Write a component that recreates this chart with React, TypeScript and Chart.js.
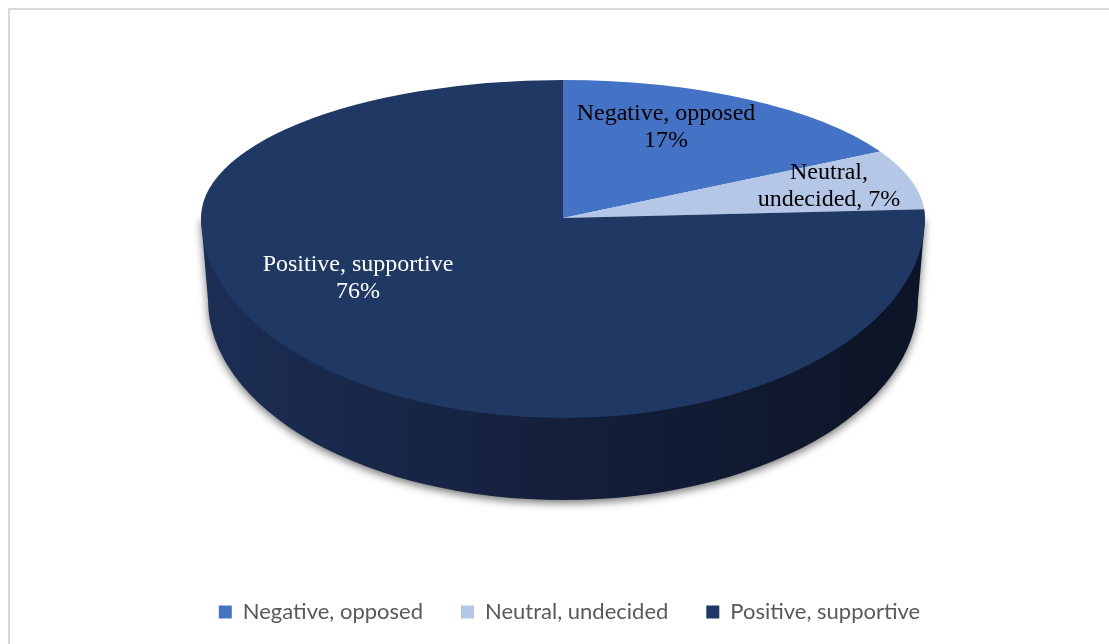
import React, { useEffect, useRef } from "react";
import { Chart, registerables } from "chart.js";

Chart.register(...registerables);

// ---- data ----
const categories = ["Negative, opposed", "Neutral, undecided", "Positive, supportive"];
const shares = [17, 7, 76];
const labelLines = [
  ["Negative, opposed", "17%"],
  ["Neutral,", "undecided, 7%"],
  ["Positive, supportive", "76%"],
];

// ---- styles ----
const sliceColors = ["#4472C4", "#B4C7E7", "#1F3864"];
const labelTextColors = ["#000000", "#000000", "#FFFFFF"];

// ---- 3D geometry (canvas px) ----
const CX = 555; // projected centre of the pie top
const VY = 210;
const RX = 362; // horizontal radius
const RY_TOP = 138; // far half vertical radius (perspective)
const RY_BOT = 200; // near half vertical radius
const DEPTH = 82;
const RXB = 355;
const RYB = 200;

// label anchors relative to the projected centre
const labelAnchors = [
  { dx: 103, dy: -98 },
  { dx: 266, dy: -39 },
  { dx: -205, dy: 53 },
];
const LINE_H = 27;

const pie3d = {
  id: "pie3d",
  beforeDatasetsDraw(chart: any) {
    const ctx: CanvasRenderingContext2D = chart.ctx;
    const meta = chart.getDatasetMeta(0);
    const arcs = meta.data;
    if (!arcs.length) return;
    const p = arcs[0].getProps(["x", "y", "outerRadius"], true);
    const R = p.outerRadius;

    // side wall
    ctx.save();
    ctx.beginPath();
    ctx.moveTo(CX - RX, VY);
    ctx.lineTo(CX - RXB, VY + DEPTH);
    ctx.ellipse(CX, VY + DEPTH, RXB, RYB, 0, Math.PI, 0, true);
    ctx.lineTo(CX + RX, VY);
    ctx.closePath();
    const g = ctx.createLinearGradient(CX - RX, 0, CX + RX, 0);
    g.addColorStop(0, "#1c2e55");
    g.addColorStop(0.5, "#141f3a");
    g.addColorStop(1, "#0c1426");
    ctx.fillStyle = g;
    ctx.shadowColor = "rgba(0,0,0,0.55)";
    ctx.shadowBlur = 9;
    ctx.shadowOffsetY = 3;
    ctx.fill();
    ctx.restore();

    // top face, far and near halves
    const halves: [number, number, number][] = [
      [0, VY, RY_TOP],
      [VY, chart.height - VY, RY_BOT],
    ];
    for (const [top, h, ry] of halves) {
      ctx.save();
      ctx.beginPath();
      ctx.rect(0, top, chart.width, h);
      ctx.clip();
      ctx.translate(CX, VY);
      ctx.scale(RX / R, ry / R);
      ctx.translate(-p.x, -p.y);
      arcs.forEach((a: any) => a.draw(ctx));
      ctx.restore();
    }
    return false;
  },
  afterDraw(chart: any) {
    const ctx: CanvasRenderingContext2D = chart.ctx;
    ctx.save();
    ctx.font = '24px "Liberation Serif", "Times New Roman", serif';
    ctx.textAlign = "center";
    ctx.textBaseline = "alphabetic";
    labelLines.forEach((lines, i) => {
      const a = labelAnchors[i];
      ctx.fillStyle = labelTextColors[i];
      lines.forEach((t, j) => {
        ctx.fillText(t, CX + a.dx, VY + a.dy + j * LINE_H);
      });
    });
    ctx.restore();
  },
};

export default function App() {
  const ref = useRef<HTMLCanvasElement | null>(null);
  useEffect(() => {
    document.documentElement.style.overflow = "hidden";
    document.body.style.overflow = "hidden";
    if (!ref.current) return;
    const chart = new Chart(ref.current, {
      type: "pie",
      data: {
        labels: categories,
        datasets: [
          {
            data: shares,
            backgroundColor: sliceColors,
            borderWidth: 0,
          },
        ],
      },
      options: {
        responsive: false,
        animation: false,
        layout: { padding: { left: 22, right: 0, top: 0, bottom: 11 } },
        plugins: {
          tooltip: { enabled: false },
          legend: {
            position: "bottom",
            labels: {
              boxWidth: 13,
              boxHeight: 13,
              padding: 38,
              color: "#595959",
              font: { family: "Lato, 'Open Sans', sans-serif", size: 22 },
            },
          },
        },
      },
      plugins: [pie3d],
    });
    return () => chart.destroy();
  }, []);

  return (
    <div
      style={{
        position: "fixed",
        left: 8,
        top: 8,
        width: 1101,
        height: 636,
        overflow: "hidden",
        background: "#fff",
      }}
    >
      <canvas ref={ref} width={1101} height={636} style={{ display: "block" }} />
      <div
        style={{
          position: "absolute",
          left: 0,
          top: 0,
          width: 1300,
          height: 900,
          borderTop: "2px solid #d9d9d9",
          borderLeft: "2px solid #d9d9d9",
          pointerEvents: "none",
        }}
      />
    </div>
  );
}
